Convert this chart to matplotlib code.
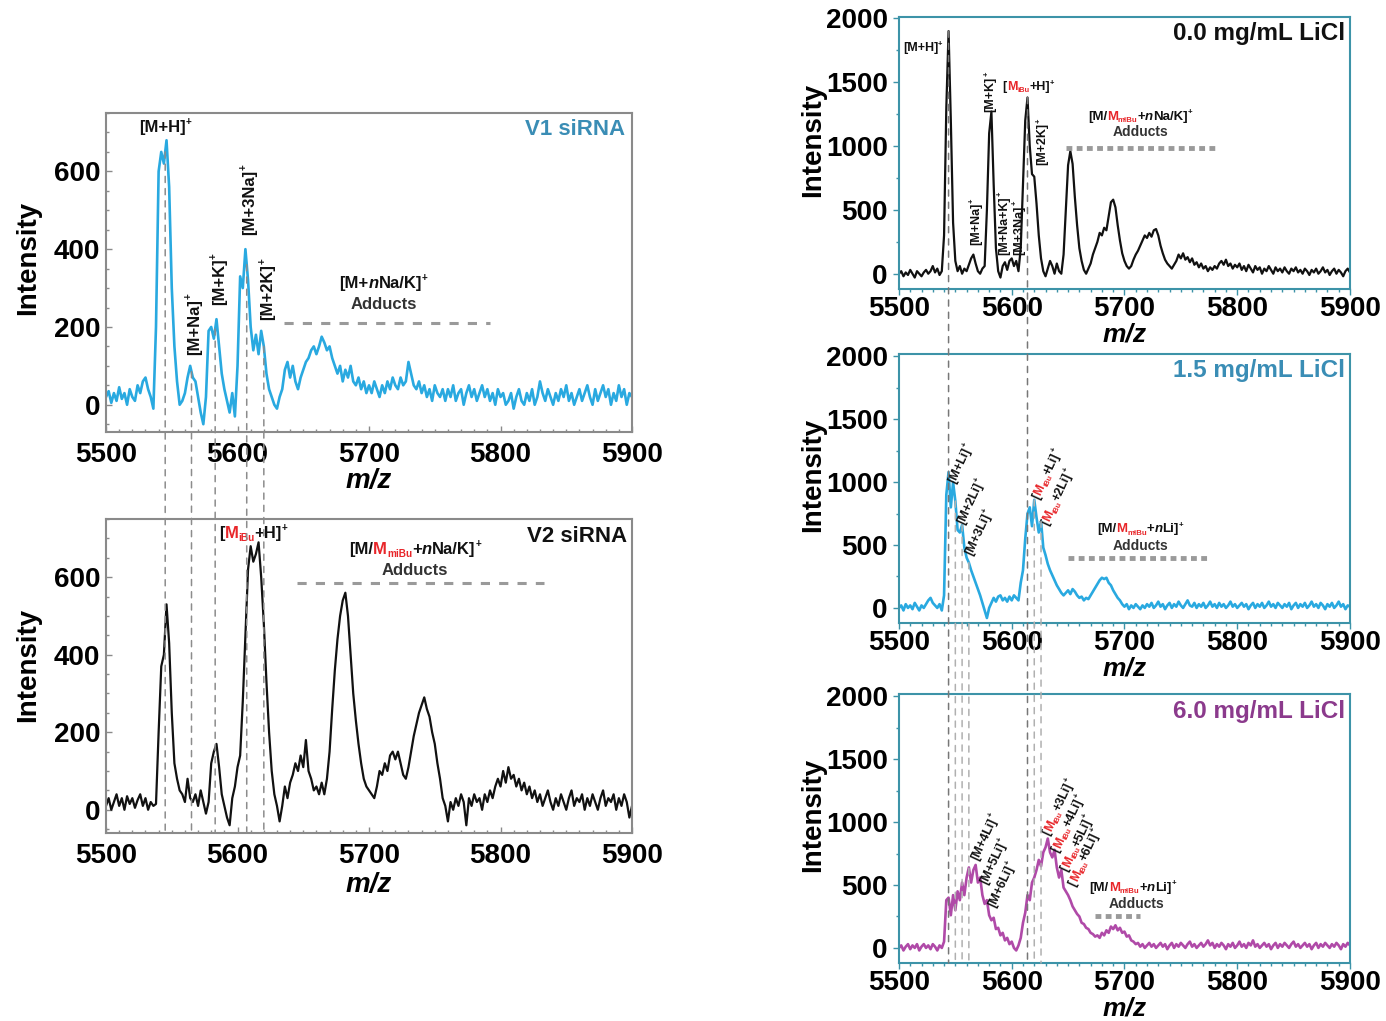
import numpy as np
import matplotlib
matplotlib.use('Agg')
import matplotlib.pyplot as plt
from matplotlib.patches import ConnectionPatch
from matplotlib.ticker import MultipleLocator

plt.rcParams['font.family'] = ['Liberation Sans', 'DejaVu Sans']
plt.rcParams['font.weight'] = 'bold'

# m/z axis of the spectra (2 Da steps)
mz = np.arange(5500, 5901, 2)

v1_sirna = [
    20, 35, 5, 30, 10, 45, 15, 30, 0, 40,
    20, 10, 50, 30, 60, 70, 40, 20, -10, 200,
    600, 650, 620, 680, 560, 300, 150, 60, 0, 10,
    30, 70, 100, 70, 60, 20, -20, -50, 20, 190,
    200, 170, 220, 150, 80, 40, 10, -20, 30, -30,
    100, 330, 300, 400, 320, 200, 140, 180, 130, 190,
    150, 80, 40, 20, 0, -10, 20, 40, 90, 110,
    70, 100, 60, 40, 70, 90, 110, 120, 140, 150,
    130, 150, 175, 160, 140, 150, 120, 100, 80, 100,
    60, 90, 70, 100, 60, 50, 70, 40, 60, 30,
    50, 30, 60, 40, 20, 50, 30, 60, 40, 70,
    50, 40, 70, 50, 60, 110, 80, 50, 40, 60,
    30, 50, 20, 40, 10, 50, 30, 20, 40, 10,
    40, 20, 50, 10, 30, 40, 0, 30, 50, 20,
    40, 10, 30, 50, 20, 40, 10, 30, 0, 40,
    20, 30, 0, 10, 30, -10, 20, 40, 10, 0,
    30, 10, 40, 0, 20, 60, 30, 10, 40, 20,
    0, 30, 10, 40, 20, 50, 10, 30, 0, 20,
    40, 10, 30, 50, 20, 0, 40, 10, 30, 50,
    20, 40, 0, 30, 10, 50, 20, 40, 0, 30,
    20,
]

v2_sirna = [
    10, 30, 0, 20, 40, 10, 30, 0, 35, 15,
    30, 5, 25, 40, 10, 30, 0, 20, 10, 15,
    200, 370, 400, 530, 430, 250, 120, 80, 50, 40,
    20, 80, 30, 20, 40, 10, 50, 20, -10, 20,
    120, 150, 170, 110, 40, 10, -20, -40, 30, 60,
    110, 140, 280, 450, 620, 680, 640, 660, 690, 600,
    480, 330, 200, 100, 40, 10, -30, 10, 60, 30,
    70, 90, 120, 100, 140, 110, 180, 100, 80, 50,
    60, 40, 70, 40, 80, 150, 260, 360, 440, 500,
    540, 560, 500, 400, 300, 230, 170, 120, 80, 60,
    50, 40, 30, 60, 100, 90, 120, 100, 140, 150,
    130, 150, 120, 90, 80, 110, 150, 190, 220, 250,
    270, 290, 260, 240, 200, 170, 120, 80, 30, 10,
    -30, 20, 0, 30, 10, 40, 20, -40, 30, 10,
    40, 20, 30, 0, 40, 20, 50, 30, 60, 80,
    60, 100, 70, 110, 80, 90, 60, 80, 50, 70,
    40, 60, 30, 50, 20, 40, 10, 30, 50, 20,
    0, 30, 10, 40, 20, 0, 30, 50, 10, 30,
    20, 40, 0, 30, 10, 40, 20, 0, 30, 50,
    10, 30, 20, 40, 0, 30, 10, 40, 20, -20,
    10,
]

licl_0 = [
    0, 20, -20, 10, -10, 30, 0, -30, 20, 0,
    -20, 10, 30, 0, 20, 60, 10, 40, -10, 20,
    300, 1300, 1900, 1200, 400, 100, 20, 60, 0, 40,
    20, 70, 120, 150, 80, 20, 0, 40, 60, 500,
    1100, 1270, 700, 200, 20, -30, 60, 90, 30, 100,
    120, 60, 100, 20, 200, 700, 1200, 1380, 1000, 780,
    760, 550, 300, 120, 20, -20, 40, 100, 60, 0,
    80, 20, 0, 150, 500, 850, 960, 860, 600, 380,
    200, 100, 30, 0, 40, 80, 150, 200, 250, 320,
    300, 360, 340, 450, 560, 580, 520, 380, 260, 160,
    100, 60, 40, 60, 110, 150, 180, 220, 260, 300,
    280, 320, 290, 340, 350, 300, 220, 160, 110, 80,
    60, 40, 70, 100, 150, 120, 160, 110, 130, 90,
    120, 70, 90, 50, 80, 40, 60, 20, 50, 30,
    60, 40, 80, 100, 70, 110, 60, 80, 40, 70,
    50, 80, 30, 60, 20, 70, 40, 10, 60, 30,
    50, 0, 40, 20, 60, 30, 0, 50, 20, 40,
    10, 50, 20, 0, 40, 20, 50, 10, 30, 0,
    40, 20, -10, 30, 10, 40, 0, 20, 50, 10,
    30, -10, 20, 40, 0, 30, 10, -20, 20, 40,
    10,
]

licl_15 = [
    0, 20, -20, 30, 0, 20, -10, 40, 10, -20,
    20, 0, 30, 60, 80, 40, 20, 0, 30, -20,
    100, 900, 1080, 800, 1000, 850, 620, 600, 660, 480,
    400, 360, 300, 250, 200, 150, 100, 40, -20, -80,
    0, 40, 80, 50, 90, 100, 60, 80, 50, 90,
    60, 100, 80, 60, 200, 300, 550, 750, 800, 650,
    860, 720, 600, 690, 480, 420, 350, 300, 260, 220,
    180, 150, 120, 100, 120, 140, 110, 150, 130, 100,
    80, 90, 60, 80, 70, 100, 130, 160, 190, 220,
    240, 230, 240, 200, 180, 140, 110, 80, 60, 30,
    10, 30, -10, 20, 0, 30, 10, -10, 20, 0,
    30, 10, 40, 0, 20, 50, 10, 30, -10, 20,
    40, 0, 30, 10, 50, 20, 0, 30, 60, 20,
    10, 40, 0, 30, 10, 40, 0, 20, 50, 10,
    30, 0, 40, 10, 30, 0, 20, 50, 10, 30,
    0, 20, 40, 10, 30, -10, 20, 40, 0, 30,
    10, 40, 0, 20, 50, 10, 30, 0, 40, 20,
    0, 30, 10, 40, -10, 20, 40, 0, 30, 10,
    40, 0, 20, 50, 10, 30, 0, 40, 20, -10,
    30, 10, 40, 0, 20, 50, 10, 30, -10, 20,
    10,
]

licl_60 = [
    0, 20, -20, 10, 30, -10, 20, 0, 30, -20,
    10, 30, 0, 20, -10, 30, 10, -20, 20, 0,
    50, 380, 400, 260, 420, 300, 450, 380, 520, 420,
    560, 640, 520, 620, 660, 520, 560, 420, 350, 380,
    260, 220, 240, 150, 160, 100, 120, 60, 80, 30,
    50, 0, -20, 20, 80, 200, 280, 420, 380, 520,
    560, 620, 700, 650, 760, 800, 870, 760, 720, 780,
    640, 560, 620, 480, 450, 420, 380, 330, 300, 270,
    250, 200, 190, 160, 150, 120, 110, 90, 100, 80,
    120, 100, 140, 120, 170, 150, 180, 140, 160, 120,
    130, 90, 100, 60, 50, 30, 40, 10, 30, 0,
    20, 40, 10, 30, 0, 20, 40, 10, 30, -10,
    20, 40, 0, 30, 10, 40, 20, 0, 30, 50,
    10, 30, 0, 20, 40, 10, 30, 60, 20, 40,
    0, 30, 10, 40, 20, -10, 30, 10, 40, 0,
    20, 50, 10, 30, 0, 40, 20, 60, 10, 30,
    0, 20, 40, 10, 30, -10, 20, 40, 0, 30,
    10, 40, 20, 0, 30, 50, 10, 30, 0, 20,
    40, 10, 30, -10, 20, 40, 0, 30, 10, 40,
    20, 0, 30, 10, 40, 20, -10, 30, 10, 40,
    20,
]

# peaks tied together by dashed guide lines
v_guides = [5545, 5565, 5583, 5607, 5620]
licl_guides = [5544, 5614]
li_guides = [5550, 5556, 5562, 5620, 5626]

BLUE = '#29a9e0'
BLACK = '#111111'
PURPLE = '#b04aa8'
RED = '#e8262a'
TEAL = '#3d93a8'
GREY = '#8a8a8a'

fig = plt.figure(figsize=(13.86, 10.21), dpi=100)
ax_v1 = fig.add_axes([0.0765, 0.5769, 0.3795, 0.3124])
ax_v2 = fig.add_axes([0.0765, 0.1841, 0.3795, 0.3075])
ax_l0 = fig.add_axes([0.6486, 0.7169, 0.3254, 0.2664])
ax_l15 = fig.add_axes([0.6486, 0.3898, 0.3254, 0.2635])
ax_l60 = fig.add_axes([0.6486, 0.0568, 0.3254, 0.2635])


def style(ax, ylim, ymajor, yminor, edge, tickdir, ylab, xlab_y, xlab_size=20):
    ax.set_xlim(5500, 5900)
    ax.set_ylim(*ylim)
    ax.xaxis.set_major_locator(MultipleLocator(100))
    ax.xaxis.set_minor_locator(MultipleLocator(10))
    ax.yaxis.set_major_locator(MultipleLocator(ymajor))
    ax.yaxis.set_minor_locator(MultipleLocator(yminor))
    ax.tick_params(which='both', direction=tickdir, labelsize=20, color=edge, width=1)
    ax.tick_params(which='major', length=4)
    ax.tick_params(which='minor', length=2.5)
    ax.tick_params(axis='x', pad=7 if tickdir == 'in' else 1)
    ax.tick_params(axis='y', pad=4)
    for sp in ax.spines.values():
        sp.set_color(edge)
        sp.set_linewidth(1.5)
    ax.set_xlabel('m/z', fontsize=xlab_size, fontstyle='italic', fontweight='bold', va='center')
    ax.xaxis.set_label_coords(0.5, xlab_y)
    ax.set_ylabel('Intensity', fontsize=20, fontweight='bold', va='center')
    ax.yaxis.set_label_coords(*ylab)


style(ax_v1, (-70, 750), 200, 50, GREY, 'in', (-0.148, 0.545), -0.155)
style(ax_v2, (-60, 750), 200, 50, GREY, 'in', (-0.148, 0.535), -0.165)
style(ax_l0, (-120, 2010), 500, 250, TEAL, 'out', (-0.19, 0.548), -0.168, 19)
style(ax_l15, (-120, 2020), 500, 250, TEAL, 'out', (-0.19, 0.55), -0.17, 19)
style(ax_l60, (-120, 2020), 500, 250, TEAL, 'out', (-0.19, 0.55), -0.168, 19)

ax_v1.plot(mz, v1_sirna, color=BLUE, lw=1.9)
ax_v2.plot(mz, v2_sirna, color=BLACK, lw=1.6)
ax_l0.plot(mz, licl_0, color=BLACK, lw=1.6)
ax_l15.plot(mz, licl_15, color=BLUE, lw=1.9)
ax_l60.plot(mz, licl_60, color=PURPLE, lw=1.9)


def rich(ax, x, y, parts, size, rot=0, ha='left', base=0.0):
    """Multi-colour label; parts are (text, colour, kind) with kind '', 'sub', 'sup' or 'it'."""
    renderer = fig.canvas.get_renderer()
    th = np.radians(rot)
    c, s = np.cos(th), np.sin(th)
    sized = []
    for txt, color, kind in parts:
        fs = size * 0.6 if kind in ('sub', 'sup') else size
        st = 'italic' if kind == 'it' else 'normal'
        probe = ax.text(0, 0, txt, fontsize=fs, fontstyle=st, fontweight='bold')
        w = probe.get_window_extent(renderer).width * 72.0 / fig.dpi
        probe.remove()
        sized.append((txt, color, kind, fs, st, w))
    total = sum(p[-1] for p in sized)
    along = {'center': -total / 2, 'right': -total}.get(ha, 0.0)
    for txt, color, kind, fs, st, w in sized:
        rise = base + {'sup': 0.42 * size, 'sub': -0.18 * size}.get(kind, 0.0)
        ax.annotate(txt, (x, y), xytext=(along * c - rise * s, along * s + rise * c),
                    textcoords='offset points', rotation=rot, rotation_mode='anchor',
                    ha='left', va='baseline', fontsize=fs, fontstyle=st,
                    fontweight='bold', color=color)
        along += w


def plain(core):
    return [(core, BLACK, ''), ('+', BLACK, 'sup')]


def ibu(tail, sub='iBu'):
    return [('[', BLACK, ''), ('M', RED, ''), (sub, RED, 'sub'), (tail, BLACK, ''), ('+', BLACK, 'sup')]


def adduct_head(ion):
    return [('[M/', BLACK, ''), ('M', RED, ''), ('miBu', RED, 'sub'), ('+', BLACK, ''),
            ('n', BLACK, 'it'), (ion + ']', BLACK, ''), ('+', BLACK, 'sup')]


def adduct_bar(ax, x0, x1, y, lw, dash):
    ax.plot([x0, x1], [y, y], color='#9a9a9a', lw=lw, ls=(0, dash), solid_capstyle='butt')


# V1 siRNA
rich(ax_v1, 5545, 700, plain('[M+H]'), 12, ha='center')
for x, y0, lab in [(5566, 128, '[M+Na]'), (5585, 256, '[M+K]'),
                   (5608, 436, '[M+3Na]'), (5622, 218, '[M+2K]')]:
    rich(ax_v1, x, y0, plain(lab), 12, rot=90, base=-4.2)
rich(ax_v1, 5711, 300, [('[M+', BLACK, ''), ('n', BLACK, 'it'), ('Na/K]', BLACK, ''), ('+', BLACK, 'sup')],
     12, ha='center')
ax_v1.text(5711, 246, 'Adducts', ha='center', va='baseline', fontsize=12, color='#333333')
adduct_bar(ax_v1, 5635, 5792, 210, 2.2, (3, 3))
ax_v1.text(0.987, 0.947, 'V1 siRNA', transform=ax_v1.transAxes, ha='right', va='center',
           fontsize=16, color='#3a8db5')

# V2 siRNA
rich(ax_v2, 5612, 700, ibu('+H]'), 12, ha='center')
rich(ax_v2, 5735, 660, adduct_head('Na/K'), 12, ha='center')
ax_v2.text(5735, 607, 'Adducts', ha='center', va='baseline', fontsize=12, color='#333333')
adduct_bar(ax_v2, 5645, 5833, 586, 2.2, (3, 3))
ax_v2.text(0.99, 0.943, 'V2 siRNA', transform=ax_v2.transAxes, ha='right', va='center',
           fontsize=16, color=BLACK)

# 0.0 mg/mL LiCl
rich(ax_l0, 5521, 1745, plain('[M+H]'), 9, ha='center')
for x, y0, lab in [(5567, 225, '[M+Na]'), (5580, 1270, '[M+K]'), (5592, 150, '[M+Na+K]'),
                   (5605, 150, '[M+3Na]'), (5626, 850, '[M+2K]')]:
    rich(ax_l0, x, y0, plain(lab), 9, rot=90, base=-3.2)
rich(ax_l0, 5615, 1440, ibu('+H]'), 9, ha='center')
rich(ax_l0, 5714, 1205, adduct_head('Na/K'), 9.5, ha='center')
ax_l0.text(5714, 1075, 'Adducts', ha='center', va='baseline', fontsize=10, color='#333333')
adduct_bar(ax_l0, 5648, 5780, 988, 3.5, (1.2, 0.9))
ax_l0.text(0.989, 0.941, '0.0 mg/mL LiCl', transform=ax_l0.transAxes, ha='right', va='center',
           fontsize=17.5, color=BLACK)

# 1.5 mg/mL LiCl
for x, y0, lab in [(5549, 990, '[M+Li]'), (5557, 663, '[M+2Li]'), (5564, 414, '[M+3Li]')]:
    rich(ax_l15, x, y0, plain(lab), 9, rot=65)
rich(ax_l15, 5624, 860, ibu('+Li]'), 9, rot=65)
rich(ax_l15, 5632, 650, ibu('+2Li]'), 9, rot=65)
rich(ax_l15, 5714, 600, adduct_head('Li'), 9.5, ha='center')
ax_l15.text(5714, 462, 'Adducts', ha='center', va='baseline', fontsize=10, color='#333333')
adduct_bar(ax_l15, 5650, 5776, 400, 3.5, (1.2, 0.9))
ax_l15.text(0.989, 0.937, '1.5 mg/mL LiCl', transform=ax_l15.transAxes, ha='right', va='center',
            fontsize=17.5, color='#3a8db5')

# 6.0 mg/mL LiCl
for x, y0, lab in [(5570, 696, '[M+4Li]'), (5578, 500, '[M+5Li]'), (5585, 318, '[M+6Li]')]:
    rich(ax_l60, x, y0, plain(lab), 9, rot=65)
for x, y0, n in [(5633, 890, 3), (5641, 760, 4), (5649, 605, 5), (5656, 490, 6)]:
    rich(ax_l60, x, y0, ibu('+%dLi]' % n), 9, rot=65)
rich(ax_l60, 5669, 454, adduct_head('Li'), 9.5)
ax_l60.text(5711, 320, 'Adducts', ha='center', va='baseline', fontsize=10, color='#333333')
adduct_bar(ax_l60, 5674, 5714, 255, 3.5, (1.2, 0.9))
ax_l60.text(0.989, 0.933, '6.0 mg/mL LiCl', transform=ax_l60.transAxes, ha='right', va='center',
            fontsize=17.5, color='#8b3a8c')


def guide(ax_a, spec, ax_b, x, color, lw=1.1):
    y0 = np.interp(x, mz, spec)
    con = ConnectionPatch(xyA=(x, y0), coordsA=ax_a.transData,
                          xyB=(x, ax_b.get_ylim()[0]), coordsB=ax_b.transData,
                          color=color, lw=lw, ls=(0, (4, 4)))
    fig.add_artist(con)


for x in v_guides:
    guide(ax_v1, v1_sirna, ax_v2, x, '#8c8c8c')
for x in licl_guides:
    guide(ax_l0, licl_0, ax_l60, x, '#777777')
for x in li_guides:
    guide(ax_l15, licl_15, ax_l60, x, '#b0b0b0')

fig.savefig('out.png', dpi=100, facecolor='white')
